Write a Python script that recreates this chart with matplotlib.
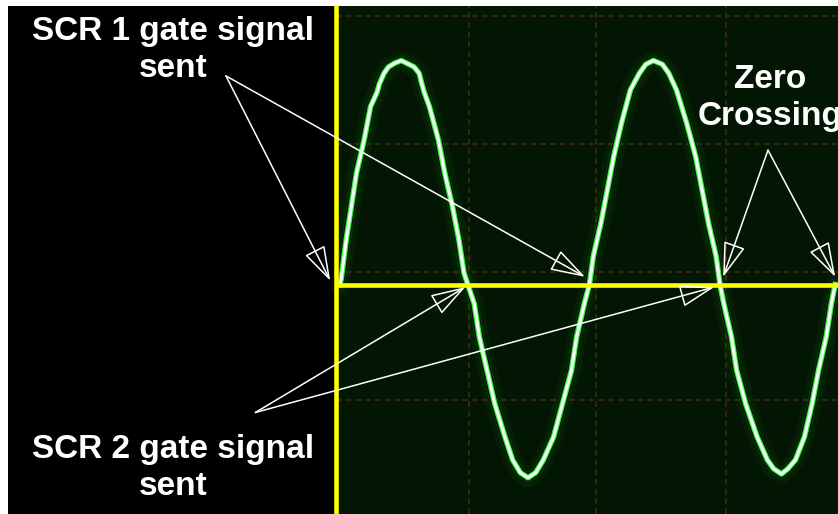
import matplotlib
matplotlib.use("Agg")
import matplotlib.pyplot as plt

# scope trace (units: grid divisions, 0 = yellow cursors)
time_div = [0.03, 0.04, 0.08, 0.12, 0.16, 0.22, 0.27, 0.32, 0.34, 0.375, 0.41, 0.46, 0.51, 0.55,
            0.61, 0.65, 0.67, 0.69, 0.73, 0.80, 0.85, 0.91, 0.96, 1.00, 1.03, 1.08, 1.12, 1.18,
            1.24, 1.32, 1.38, 1.44, 1.50, 1.56, 1.62, 1.70, 1.77, 1.84, 1.88, 1.94,
            1.98, 2.01, 2.07, 2.12, 2.17, 2.23, 2.30, 2.37, 2.42, 2.48, 2.55, 2.60,
            2.66, 2.74, 2.81, 2.86, 2.91, 2.97, 3.00, 3.03, 3.09, 3.13, 3.20, 3.29,
            3.37, 3.42, 3.48, 3.53, 3.59, 3.66, 3.72, 3.77, 3.83, 3.87, 3.90]
volt_div = [0.00, 0.04, 0.35, 0.61, 0.87, 1.13, 1.39, 1.50, 1.57, 1.65, 1.70, 1.73, 1.75, 1.73,
            1.70, 1.65, 1.57, 1.50, 1.39, 1.13, 0.87, 0.61, 0.35, 0.09, 0.00, -0.15, -0.41, -0.67,
            -0.93, -1.19, -1.37, -1.47, -1.51, -1.47, -1.37, -1.19, -0.93, -0.67, -0.41, -0.15,
            0.00, 0.22, 0.48, 0.74, 1.00, 1.26, 1.52, 1.65, 1.72, 1.75, 1.72, 1.65,
            1.52, 1.26, 1.00, 0.74, 0.48, 0.22, 0.00, -0.15, -0.41, -0.67, -0.93, -1.19,
            -1.37, -1.44, -1.48, -1.44, -1.37, -1.19, -0.93, -0.67, -0.41, -0.15, 0.00]

# graticule of the scope screen
grid_t = [1.04, 2.03, 3.05]
grid_v = [2.10, 1.10, 0.10, -0.90]

# annotations: label, label position, arrow start, arrow targets
labels = ["SCR 1 gate signal\nsent", "SCR 2 gate signal\nsent", "Zero\nCrossing"]
label_pos = [(-1.27, 1.83), (-1.27, -1.43), (3.39, 1.46)]
arrow_start = [(-0.86, 1.63), (-0.63, -1.00), (3.375, 1.05)]
arrow_tips = [[(-0.045, 0.03), (1.945, 0.06)],
              [(1.01, -0.02), (2.955, -0.02)],
              [(3.025, 0.06), (3.90, 0.06)]]

xmin, xmax = -2.5625, 3.922
ymin, ymax = -1.793, 2.176

fig = plt.figure(figsize=(8.38, 5.14), dpi=100, facecolor="white")
ax = fig.add_axes([8 / 838, 0, 830 / 838, 508 / 514])
ax.set_facecolor("black")
ax.set_xlim(xmin, xmax)
ax.set_ylim(ymin, ymax)
ax.set_xticks([])
ax.set_yticks([])
for s in ax.spines.values():
    s.set_visible(False)

# scope screen
ax.axvspan(0, xmax, color="#031503", zorder=0)
ax.vlines(grid_t, ymin, ymax, colors="#33280c", lw=1.4, linestyles=(0, (3, 2)), zorder=1)
ax.hlines(grid_v, 0, xmax, colors="#33280c", lw=1.4, linestyles=(0, (3, 2)), zorder=1)

# phosphor glow + trace
ax.plot(time_div, volt_div, color="#1f9a1f", lw=14, alpha=0.08, solid_joinstyle="round", zorder=2)
ax.plot(time_div, volt_div, color="#22b022", lw=7, alpha=0.20, solid_joinstyle="round", zorder=2)
ax.plot(time_div, volt_div, color="#000000", lw=5.8, alpha=0.6, solid_joinstyle="round", zorder=3)
ax.plot(time_div, volt_div, color="#33ee33", lw=4.0, solid_joinstyle="round", zorder=3)
ax.plot(time_div, volt_div, color="#f0fff8", lw=2.3, solid_joinstyle="round", zorder=4)

# yellow cursors
ax.axvline(0, color="#ffff00", lw=3.3, zorder=5)
ax.hlines(0, 0, xmax, color="#ffff00", lw=3.3, zorder=5)

# text + arrows
for text, pos, start, tips in zip(labels, label_pos, arrow_start, arrow_tips):
    ax.text(pos[0], pos[1], text, color="white", fontsize=24, fontweight="bold",
            family="Liberation Sans", ha="center", va="center",
            multialignment="center", linespacing=1.25, zorder=7)
    for tip in tips:
        ax.annotate("", xy=tip, xytext=start, zorder=6,
                    arrowprops=dict(arrowstyle="-|>,head_length=2.2,head_width=0.7",
                                    mutation_scale=10, color="white", fc="none",
                                    lw=1.1, shrinkA=0, shrinkB=0))

fig.savefig("out.png", dpi=100, facecolor=fig.get_facecolor())
